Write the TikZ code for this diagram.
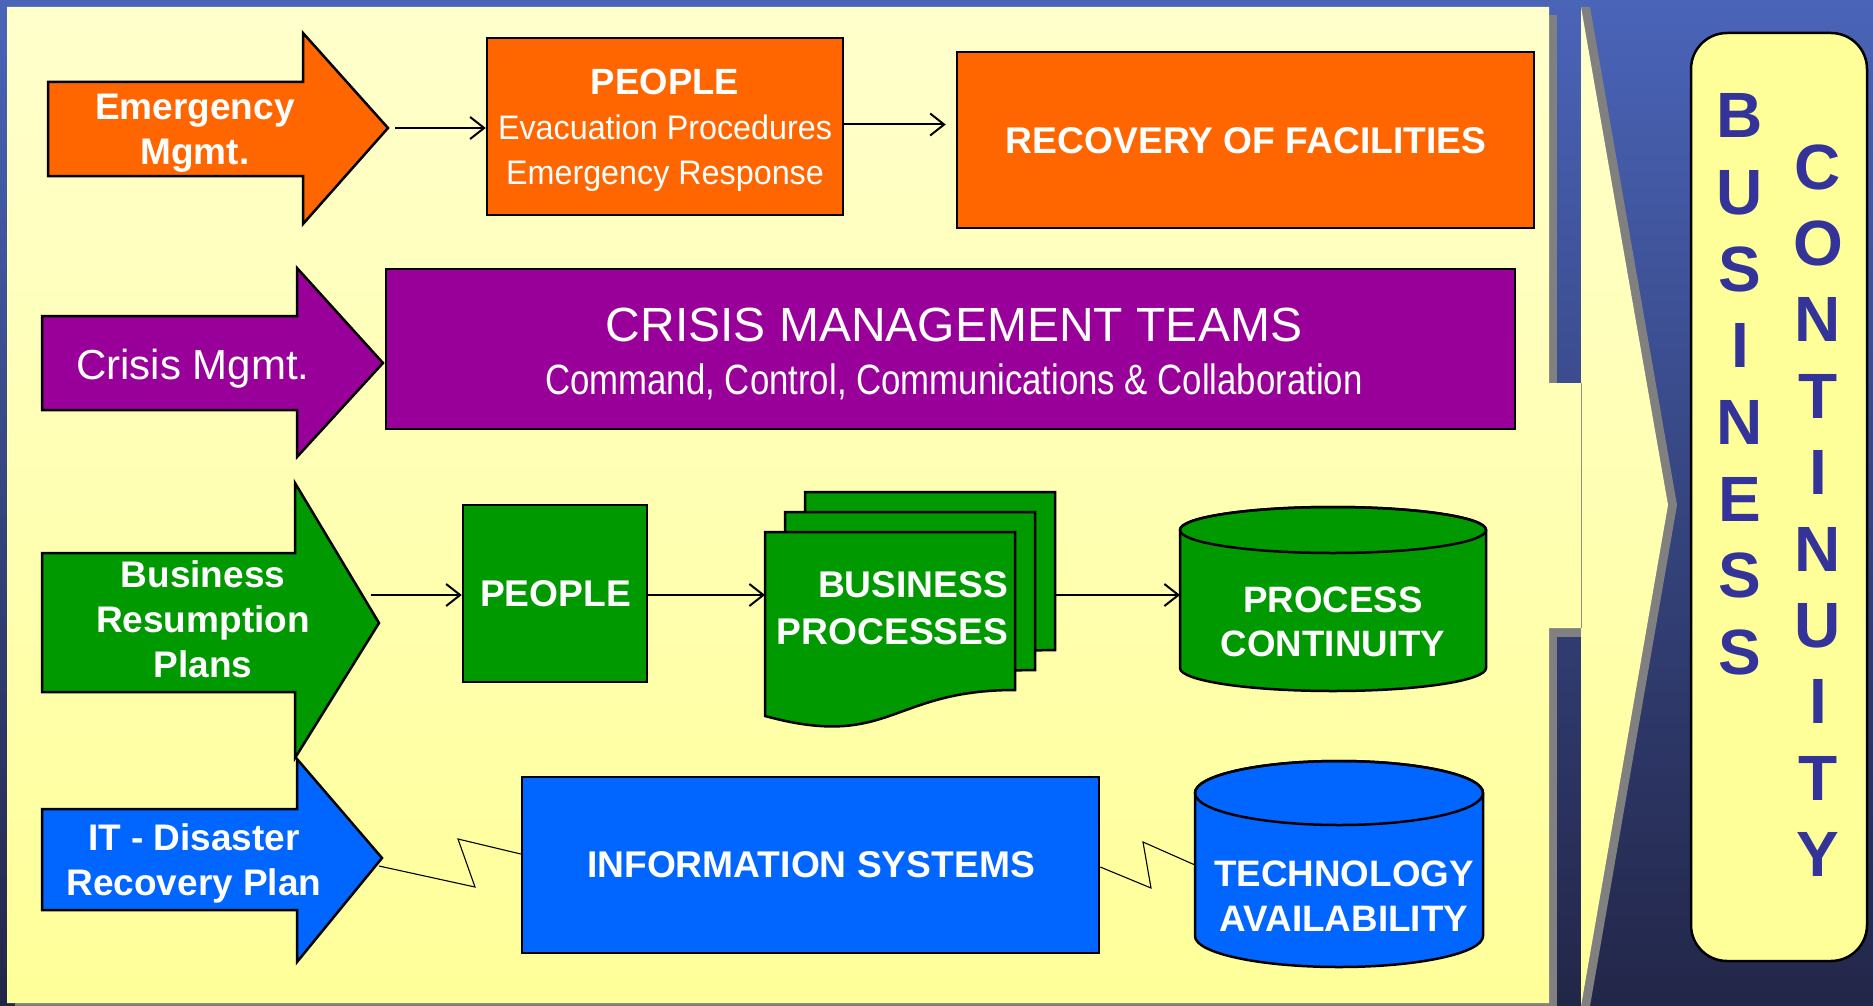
\documentclass[tikz,border=0pt]{standalone}
\usepackage{fontspec}
\setmainfont{Liberation Sans}
\newfontfamily\narrowfont[FakeStretch=0.82]{Liberation Sans}
\newfontfamily\evfont[FakeStretch=0.95]{Liberation Sans}
\usetikzlibrary{arrows.meta,calc}

\definecolor{orng}{HTML}{FF6600}
\definecolor{purp}{HTML}{990099}
\definecolor{grn}{HTML}{009900}
\definecolor{blu}{HTML}{0066FF}
\definecolor{txtblue}{HTML}{333399}
\definecolor{bcyellow}{HTML}{FFFF99}
\definecolor{paleyellow}{HTML}{FFFFCC}
\definecolor{shadowgray}{HTML}{808080}
\definecolor{bgtop}{RGB}{74,100,184}
\definecolor{bgmid}{RGB}{36,48,110}
\definecolor{bgbot}{RGB}{34,38,72}

\tikzset{
  box/.style={draw=black, line width=2.5pt, inner sep=0pt},
  bigarrow/.style={draw=black, line width=2.5pt, line join=miter},
  lbl/.style={text=white, align=center, inner sep=0pt},
  flow/.style={draw=black, line width=2pt, -{Straight Barb[length=14pt,width=22pt,line width=2pt]}},
  zig/.style={draw=black, line width=1.1pt},
  cyl/.style={draw=black, line width=2.5pt},
  bf/.style={font=\bfseries\fontsize{37}{45}\selectfont},
  ghost/.style={inner sep=0pt, outer sep=0pt},
  vletters/.style={text=txtblue, align=center, inner sep=0pt, font=\bfseries\fontsize{64}{76.7}\selectfont},
}

\begin{document}
\begin{tikzpicture}[x=1pt,y=-1pt]
\useasboundingbox (0,0) rectangle (1873,1006);
% background
\shade[top color=bgtop, middle color=bgmid, bottom color=bgbot] (0,0) rectangle (1873,1006);

% shadows
\fill[shadowgray] (15,15) rectangle (1557,1011);
\fill[shadowgray] (1581,7) -- (1590,7) -- (1677,505) -- (1590,1006) -- (1581,1006) -- cycle;
\fill[shadowgray] (1549,628) rectangle (1581,637);
% yellow panel
\shade[top color=paleyellow, bottom color=bcyellow]
  (7,7) rectangle (1549,1003)
  (1548,383) rectangle (1582,628)
  (1581,7) -- (1668,505) -- (1581,1006) -- cycle;

% ---------- row 1 : emergency ----------
\draw[bigarrow, fill=orng] (48,82) -- (303,82) -- (303,33) -- (388,128) -- (303,224) -- (303,176) -- (48,176) -- cycle;
\node[lbl, bf] (emt) at (195,133) {Emergency\\Mgmt.};
\coordinate (emtip) at (388,128);

\node[box, fill=orng, minimum width=356, minimum height=177] (p1) at (665,126.5) {};
\node[lbl, font=\evfont\fontsize{34}{45}\selectfont] (p1t) at (665,130)
  {{\normalfont\bfseries\fontsize{36.5}{45}\selectfont PEOPLE}\\Evacuation Procedures\\Emergency Response};

\node[box, fill=orng, minimum width=577, minimum height=176] (rec) at (1245.5,140) {};
\node[lbl, font=\bfseries\fontsize{37.2}{45}\selectfont] (rect) at (1246,141) {RECOVERY OF FACILITIES};

\draw[flow, shorten <=7pt] (emtip) -- (p1.west |- emtip);
\draw[flow, shorten >=10pt] ([yshift=2pt]p1.east) -- ([yshift=2pt]p1.east -| rec.west);

% ---------- row 2 : crisis ----------
\draw[bigarrow, fill=purp] (42,316) -- (297,316) -- (297,268) -- (383,363) -- (297,457) -- (297,410) -- (42,410) -- cycle;
\node[lbl, font=\fontsize{42}{48}\selectfont] (cmt) at (193,369) {Crisis Mgmt.};

\node[box, fill=purp, minimum width=1129, minimum height=160] (cmteam) at (950.5,349) {};
\node[lbl, font=\narrowfont\fontsize{42.4}{53.3}\selectfont] (cmteamt) at (954,354)
  {{\normalfont\fontsize{48}{53.3}\selectfont CRISIS MANAGEMENT TEAMS}\\Command, Control, Communications \& Collaboration};

% ---------- row 3 : business resumption ----------
\draw[bigarrow, fill=grn] (42,553) -- (295,553) -- (295,483) -- (379,623) -- (295,758) -- (295,692) -- (42,692) -- cycle;
\node[lbl, bf] (brt) at (203,619) {Business\\Resumption\\Plans};
\coordinate (brout) at (371,595);

\node[box, fill=grn, minimum width=184, minimum height=177] (gp) at (555,593.5) {};
\node[lbl, font=\bfseries\fontsize{37.2}{45}\selectfont] (gpt) at (555.5,594) {PEOPLE};

% business processes (stacked documents)
\foreach \dx/\dy in {805/492, 785/512, 765/532}{
  \draw[bigarrow, fill=grn] (\dx,\dy) -- (\dx+250,\dy) -- (\dx+250,\dy+158)
     .. controls (\dx+125,\dy+158) and (\dx+125,\dy+218) .. (\dx,\dy+184) -- cycle;
}
\node[ghost, minimum width=290, minimum height=200] (bp) at (910,595) {};
\node[lbl, align=right, font=\bfseries\fontsize{37.2}{47}\selectfont] (bpt) at (892.5,608) {BUSINESS\\PROCESSES};

% process continuity cylinder
\path[cyl, fill=grn] (1180,530) -- (1180,668)
   arc[start angle=180, end angle=0, x radius=153, y radius=23] -- (1486,530)
   arc[start angle=0, end angle=-180, x radius=153, y radius=23] -- cycle;
\draw[cyl] (1333,530) ellipse[x radius=153, y radius=23];
\node[ghost, minimum width=306, minimum height=184] (pc) at (1333,595) {};
\node[lbl, font=\bfseries\fontsize{36.7}{44}\selectfont] (pct) at (1333,622) {PROCESS\\CONTINUITY};

\draw[flow] (brout) -- (gp.west |- brout);
\draw[flow] (gp.east |- bp.west) -- (bp.west);
\draw[flow] (bp.east) -- (pc.west);

% ---------- row 4 : IT disaster recovery ----------
\draw[bigarrow, fill=blu] (42,809) -- (297,809) -- (297,759) -- (382,858) -- (297,962) -- (297,910) -- (42,910) -- cycle;
\node[lbl, bf] (itt) at (194,863) {IT - Disaster\\Recovery Plan};
\coordinate (itout) at (379,866);

\node[box, fill=blu, minimum width=577, minimum height=176] (is) at (810.5,865) {};
\node[lbl, font=\bfseries\fontsize{37.2}{45}\selectfont] (ist) at (811,865) {INFORMATION SYSTEMS};

% technology availability cylinder
\path[cyl, fill=blu] (1195,793) -- (1195,936)
   arc[start angle=180, end angle=0, x radius=144, y radius=31] -- (1483,793)
   arc[start angle=0, end angle=-180, x radius=144, y radius=32] -- cycle;
\draw[cyl] (1339,793) ellipse[x radius=144, y radius=32];
\node[ghost, minimum width=288, minimum height=170] (ta) at (1339,865) {};
\node[lbl, font=\bfseries\fontsize{36.8}{45}\selectfont] (tat) at (1344,896) {TECHNOLOGY\\AVAILABILITY};

\draw[zig] (itout) -- (475,887) -- (458,839) -- ($(is.west)+(0,-11)$);
\draw[zig] ($(is.east)+(0,2)$) -- (1151,888) -- (1143,842) -- (ta.west);

% ---------- business continuity ----------
\node[draw=black, line width=2.5pt, fill=bcyellow, rounded corners=36pt,
      minimum width=176, minimum height=928, inner sep=0pt] (bc) at (1779,497) {};
\node[vletters] (bus) at (1740,384.5) {B\\U\\S\\I\\N\\E\\S\\S};
\node[vletters, font=\bfseries\fontsize{64}{76.4}\selectfont] (cont) at (1818,510.5) {C\\O\\N\\T\\I\\N\\U\\I\\T\\Y};
\end{tikzpicture}
\end{document}
